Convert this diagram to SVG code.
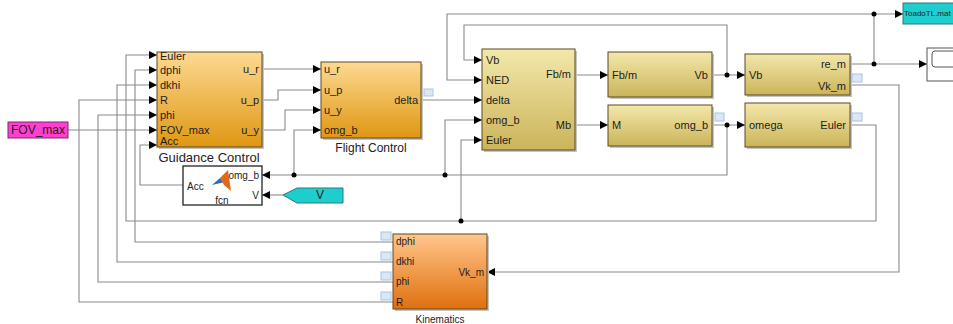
<svg xmlns="http://www.w3.org/2000/svg" width="953" height="324" viewBox="0 0 953 324">
<style>
.w{fill:none;stroke:#8a8a8a;stroke-width:1.1}
.a{marker-end:url(#ar)}
.blk{stroke:#5b4a24;stroke-width:1}
.sh{fill:#c4c4c4}
.t{font-family:"Liberation Sans",Arial,sans-serif;font-size:11px;fill:#1e1e1e}
.s10{font-size:10px}
.s12{font-size:12px}
.s8{font-size:8px}
.r{text-anchor:end}
.c{text-anchor:middle}
.lb{font-family:"Liberation Sans",Arial,sans-serif;fill:#222;text-anchor:middle}
.pi{fill:#dbe7f4;stroke:#a9c3df;stroke-width:1}
.dot{fill:#000}
</style>
<defs>
<marker id="ar" markerUnits="userSpaceOnUse" markerWidth="8" markerHeight="8" refX="8" refY="4" orient="auto"><path d="M0,0 L8,4 L0,8 z" fill="#000"/></marker>
<linearGradient id="gold" x1="0" y1="0" x2="0" y2="1"><stop offset="0" stop-color="#fdd993"/><stop offset="1" stop-color="#df9712"/></linearGradient>
<linearGradient id="khaki" x1="0" y1="0" x2="0" y2="1"><stop offset="0" stop-color="#f3e8ab"/><stop offset="1" stop-color="#cbb45a"/></linearGradient>
<linearGradient id="orng" x1="0" y1="0" x2="0" y2="1"><stop offset="0" stop-color="#ffc68c"/><stop offset="1" stop-color="#e0700e"/></linearGradient>
</defs>

<g id="connectors">
<path class="w a" d="M68,130 H157"/>
<path class="w a" d="M262,69 H321"/>
<path class="w a" d="M262,100 H278 V90 H321"/>
<path class="w a" d="M262,130 H285 V110 H321"/>
<path class="w a" d="M294,175 V130 H321"/>
<path class="w a" d="M421,100 H482"/>
<path class="w a" d="M850,64 H927"/>
<path class="w a" d="M874,64 V14 H903"/>
<path class="w a" d="M874,14 H447 V80 H482"/>
<path class="w a" d="M575,75 H608"/>
<path class="w a" d="M712,75 H745"/>
<path class="w a" d="M727,75 V25 H464 V60 H482"/>
<path class="w a" d="M575,125 H608"/>
<path class="w a" d="M712,125 H745"/>
<path class="w a" d="M727,125 V175 H262"/>
<path class="w a" d="M445,175 V120 H482"/>
<path class="w a" d="M850,125 H876 V221 H126 V55 H157"/>
<path class="w a" d="M461,221 V140 H482"/>
<path class="w a" d="M850,85 H899 V272 H487"/>
<path class="w a" d="M393,242 H135 V70 H157"/>
<path class="w a" d="M393,262 H117 V85 H157"/>
<path class="w a" d="M393,282 H98 V115 H157"/>
<path class="w a" d="M393,302 H79 V100 H157"/>
<path class="w a" d="M183,185 H140 V145 H157"/>
<path class="w a" d="M283,195 H262"/>
<circle class="dot" cx="874" cy="64" r="2.5"/>
<circle class="dot" cx="874" cy="14" r="2.5"/>
<circle class="dot" cx="727" cy="75" r="2.5"/>
<circle class="dot" cx="727" cy="125" r="2.5"/>
<circle class="dot" cx="445" cy="175" r="2.5"/>
<circle class="dot" cx="294" cy="175" r="2.5"/>
<circle class="dot" cx="461" cy="221" r="2.5"/>
</g>

<g id="FOV_max">
<rect x="8" y="122" width="60" height="16" fill="#ff3fd0" stroke="#7a2a6a"/>
<text class="t s12 c" x="38" y="134">FOV_max</text>
</g>

<g id="GuidanceControl">
<rect class="sh" x="159" y="54" width="105" height="95"/>
<rect class="blk" x="157" y="52" width="105" height="95" fill="url(#gold)"/>
<text class="t" x="160" y="60">Euler</text>
<text class="t" x="160" y="74">dphi</text>
<text class="t" x="160" y="89">dkhi</text>
<text class="t" x="160" y="104">R</text>
<text class="t" x="160" y="119">phi</text>
<text class="t" x="160" y="134">FOV_max</text>
<text class="t" x="160" y="145">Acc</text>
<text class="t r" x="259" y="73">u_r</text>
<text class="t r" x="259" y="104">u_p</text>
<text class="t r" x="259" y="134">u_y</text>
<text class="lb" x="209" y="162" font-size="13">Guidance Control</text>
</g>

<g id="FlightControl">
<rect class="sh" x="323" y="64" width="100" height="76"/>
<rect class="blk" x="321" y="62" width="100" height="76" fill="url(#gold)"/>
<text class="t" x="324" y="73">u_r</text>
<text class="t" x="324" y="94">u_p</text>
<text class="t" x="324" y="114">u_y</text>
<text class="t" x="324" y="134">omg_b</text>
<text class="t r" x="418" y="104">delta</text>
<rect class="pi" x="424" y="89" width="9" height="7"/>
<text class="lb" x="371" y="152" font-size="12">Flight Control</text>
</g>

<g id="SixDOF">
<rect class="sh" x="484" y="51" width="93" height="101"/>
<rect class="blk" x="482" y="49" width="93" height="101" fill="url(#khaki)"/>
<text class="t" x="486" y="64">Vb</text>
<text class="t" x="486" y="84">NED</text>
<text class="t" x="486" y="104">delta</text>
<text class="t" x="486" y="124">omg_b</text>
<text class="t" x="486" y="144">Euler</text>
<text class="t r" x="571" y="78">Fb/m</text>
<text class="t r" x="571" y="129">Mb</text>
</g>

<g id="FbmBlock">
<rect class="sh" x="610" y="54" width="104" height="45"/>
<rect class="blk" x="608" y="52" width="104" height="45" fill="url(#khaki)"/>
<text class="t" x="612" y="79">Fb/m</text>
<text class="t r" x="708" y="79">Vb</text>
</g>

<g id="MBlock">
<rect class="sh" x="610" y="107" width="104" height="41"/>
<rect class="blk" x="608" y="105" width="104" height="41" fill="url(#khaki)"/>
<text class="t" x="612" y="129">M</text>
<text class="t r" x="708" y="129">omg_b</text>
<rect class="pi" x="715" y="113" width="9" height="8"/>
</g>

<g id="VbBlock">
<rect class="sh" x="747" y="56" width="105" height="41"/>
<rect class="blk" x="745" y="54" width="105" height="41" fill="url(#khaki)"/>
<text class="t" x="749" y="79">Vb</text>
<text class="t r" x="846" y="68">re_m</text>
<text class="t r" x="846" y="90">Vk_m</text>
<rect class="pi" x="852" y="74" width="10" height="8"/>
</g>

<g id="OmegaBlock">
<rect class="sh" x="747" y="105" width="105" height="44"/>
<rect class="blk" x="745" y="103" width="105" height="44" fill="url(#khaki)"/>
<text class="t" x="749" y="129">omega</text>
<text class="t r" x="846" y="129">Euler</text>
<rect class="pi" x="852" y="113" width="10" height="8"/>
</g>

<g id="ToadoTL">
<rect x="903" y="3" width="60" height="21" fill="#1ecece" stroke="#2a7a7a"/>
<text class="t s8" x="904" y="16">ToadoTL.mat</text>
</g>

<g id="Scope">
<rect x="927" y="48" width="40" height="33" fill="#fff" stroke="#555"/>
<rect x="932" y="51" width="32" height="16" rx="3" fill="#fff" stroke="#555"/>
</g>

<g id="fcn">
<rect x="183" y="166" width="79" height="39" fill="#fff" stroke="#222" stroke-width="1.3"/>
<path d="M212,185 L220,178 L225,182 Z" fill="#2a6fb5"/>
<path d="M220,178 L228,170 L231,191 L224,185 Z" fill="#e06a1c"/>
<text class="t s10" x="187" y="190">Acc</text>
<text class="t s10 r" x="259" y="179">omg_b</text>
<text class="t s10 r" x="259" y="199">V</text>
<text class="t s10 c" x="222" y="204">fcn</text>
</g>

<g id="V">
<path d="M283,195 L297,188 H343 V203 H297 Z" fill="#1ecece" stroke="#2a7a7a"/>
<text class="t s12 c" x="320" y="199">V</text>
</g>

<g id="Kinematics">
<rect class="sh" x="395" y="236" width="94" height="75"/>
<rect class="blk" x="393" y="234" width="94" height="75" fill="url(#orng)"/>
<text class="t s10" x="396" y="245">dphi</text>
<text class="t s10" x="396" y="265">dkhi</text>
<text class="t s10" x="396" y="285">phi</text>
<text class="t s10" x="396" y="306">R</text>
<text class="t s10 r" x="484" y="276">Vk_m</text>
<rect class="pi" x="381" y="232" width="10" height="8"/>
<rect class="pi" x="381" y="252" width="10" height="8"/>
<rect class="pi" x="381" y="272" width="10" height="8"/>
<rect class="pi" x="381" y="292" width="10" height="8"/>
<text class="lb" x="440" y="323" font-size="10">Kinematics</text>
</g>
</svg>
